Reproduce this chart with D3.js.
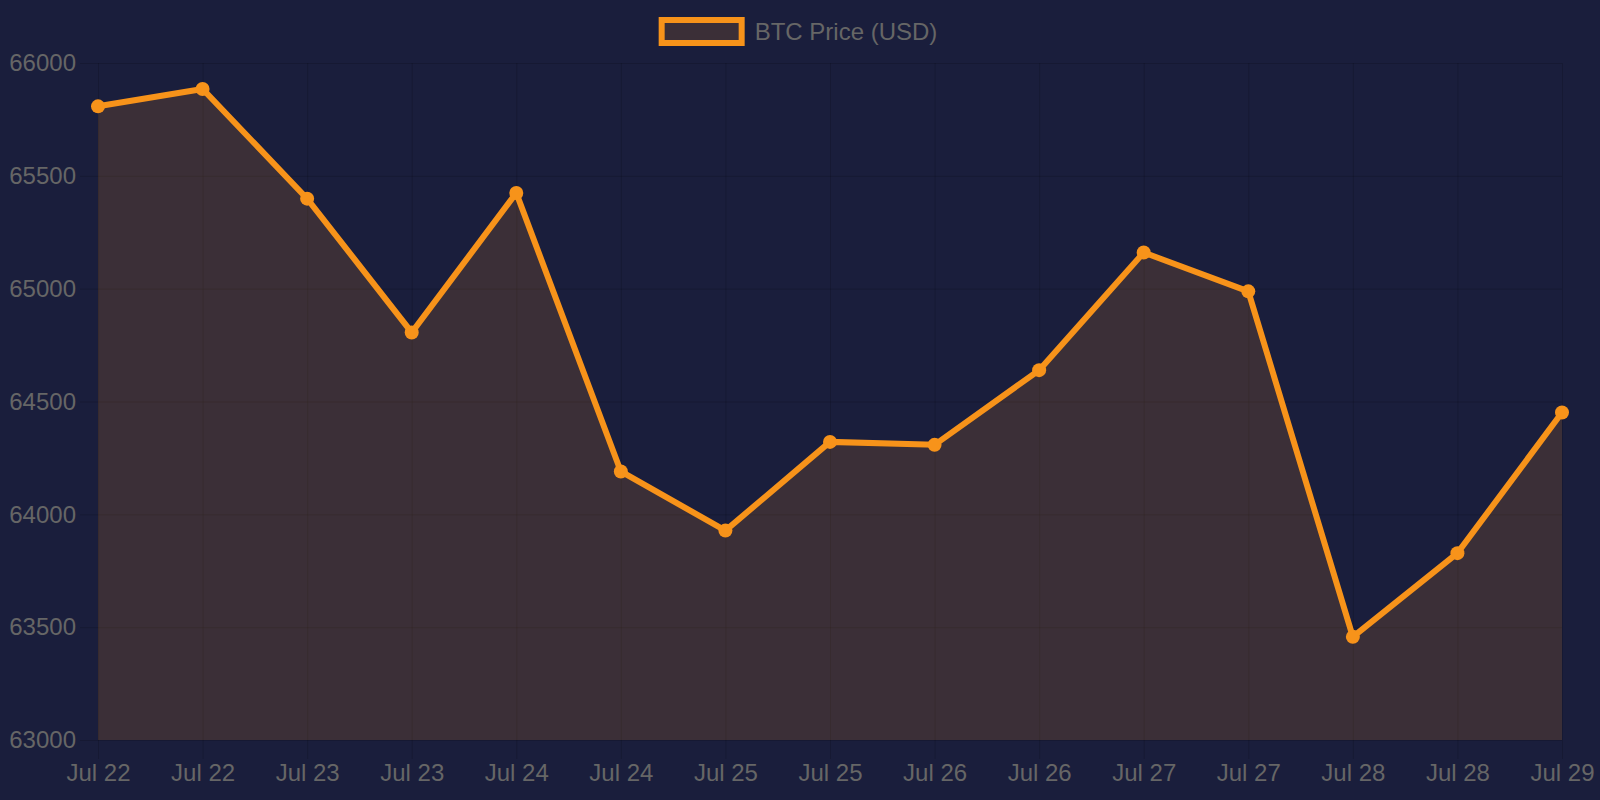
<!DOCTYPE html>
<html>
<head>
<meta charset="utf-8">
<script src="https://cdn.jsdelivr.net/npm/d3@7"></script>
<style>
  html, body { margin: 0; padding: 0; background: #1a1e3c; }
  svg { display: block; }
</style>
</head>
<body>
<div id="chart"></div>
<script>
// chart data
var labels = ['Jul 22','Jul 22','Jul 23','Jul 23','Jul 24','Jul 24','Jul 25','Jul 25',
              'Jul 26','Jul 26','Jul 27','Jul 27','Jul 28','Jul 28','Jul 29'];
var prices = [65808, 65885, 65399, 64806, 65424, 64190, 63928, 64321,
              64308, 64639, 65160, 64988, 63457, 63828, 64451];
var yTicks = [63000, 63500, 64000, 64500, 65000, 65500, 66000];
var seriesName = 'BTC Price (USD)';

var width = 1600, height = 800;
var margin = {top: 63, right: 38, bottom: 60, left: 98};
var lineColor = '#f7931a';
var textColor = '#666666';

var svg = d3.select('#chart')
  .append('svg')
  .attr('width', width)
  .attr('height', height);

svg.append('rect')
  .attr('width', width)
  .attr('height', height)
  .attr('fill', '#1a1e3c');

var x = d3.scalePoint()
  .domain(d3.range(labels.length))
  .range([margin.left, width - margin.right]);

var y = d3.scaleLinear()
  .domain([63000, 66000])
  .range([height - margin.bottom, margin.top]);

var plotBottom = height - margin.bottom;

// grid lines (x)
var xAxis = svg.append('g')
  .attr('transform', 'translate(0,' + plotBottom + ')')
  .call(d3.axisBottom(x)
    .tickSize(-(plotBottom - margin.top))
    .tickFormat(function(i){ return labels[i]; }));
xAxis.select('.domain').remove();
xAxis.selectAll('.tick line')
  .attr('stroke', 'rgba(0,0,0,0.15)')
  .attr('stroke-width', 1);
// tick marks below the plot
xAxis.selectAll('.tick').append('line')
  .attr('y1', 0).attr('y2', 19)
  .attr('stroke', 'rgba(0,0,0,0.15)');
xAxis.selectAll('.tick text')
  .attr('y', 33)
  .attr('dy', '0.35em')
  .attr('fill', textColor)
  .style('font-family', 'Liberation Sans, Arial, sans-serif')
  .style('font-size', '24px');

// grid lines (y)
var yAxis = svg.append('g')
  .attr('transform', 'translate(' + margin.left + ',0)')
  .call(d3.axisLeft(y)
    .tickValues(yTicks)
    .tickSize(-(width - margin.right - margin.left))
    .tickFormat(d3.format('d')));
yAxis.select('.domain').remove();
yAxis.selectAll('.tick line')
  .attr('stroke', 'rgba(0,0,0,0.15)');
yAxis.selectAll('.tick').append('line')
  .attr('x1', 0).attr('x2', -18)
  .attr('stroke', 'rgba(0,0,0,0.15)');
yAxis.selectAll('.tick text')
  .attr('x', -22)
  .attr('fill', textColor)
  .style('font-family', 'Liberation Sans, Arial, sans-serif')
  .style('font-size', '24px');

// area fill
var area = d3.area()
  .x(function(d, i){ return x(i); })
  .y0(plotBottom)
  .y1(function(d){ return y(d); });

svg.append('path')
  .datum(prices)
  .attr('d', area)
  .attr('fill', 'rgba(247,147,26,0.15)');

// line
var line = d3.line()
  .x(function(d, i){ return x(i); })
  .y(function(d){ return y(d); });

svg.append('path')
  .datum(prices)
  .attr('d', line)
  .attr('fill', 'none')
  .attr('stroke', lineColor)
  .attr('stroke-width', 6)
  .attr('stroke-linejoin', 'miter');

// points
svg.selectAll('.pt')
  .data(prices)
  .enter()
  .append('circle')
  .classed('pt', true)
  .attr('cx', function(d, i){ return x(i); })
  .attr('cy', function(d){ return y(d); })
  .attr('r', 7)
  .attr('fill', lineColor);

// legend
var legend = svg.append('g');
var legendText = legend.append('text')
  .attr('x', 96)
  .attr('y', 31.5)
  .attr('dy', '0.35em')
  .attr('fill', textColor)
  .style('font-family', 'Liberation Sans, Arial, sans-serif')
  .style('font-size', '24px')
  .text(seriesName);
legend.append('rect')
  .attr('x', 3)
  .attr('y', 20)
  .attr('width', 80)
  .attr('height', 23)
  .attr('fill', 'rgba(247,147,26,0.15)')
  .attr('stroke', lineColor)
  .attr('stroke-width', 6);
var legendWidth = 96 + legendText.node().getComputedTextLength();
legend.attr('transform', 'translate(' + (width / 2 - legendWidth / 2 - 2) + ',0)');
</script>
</body>
</html>
